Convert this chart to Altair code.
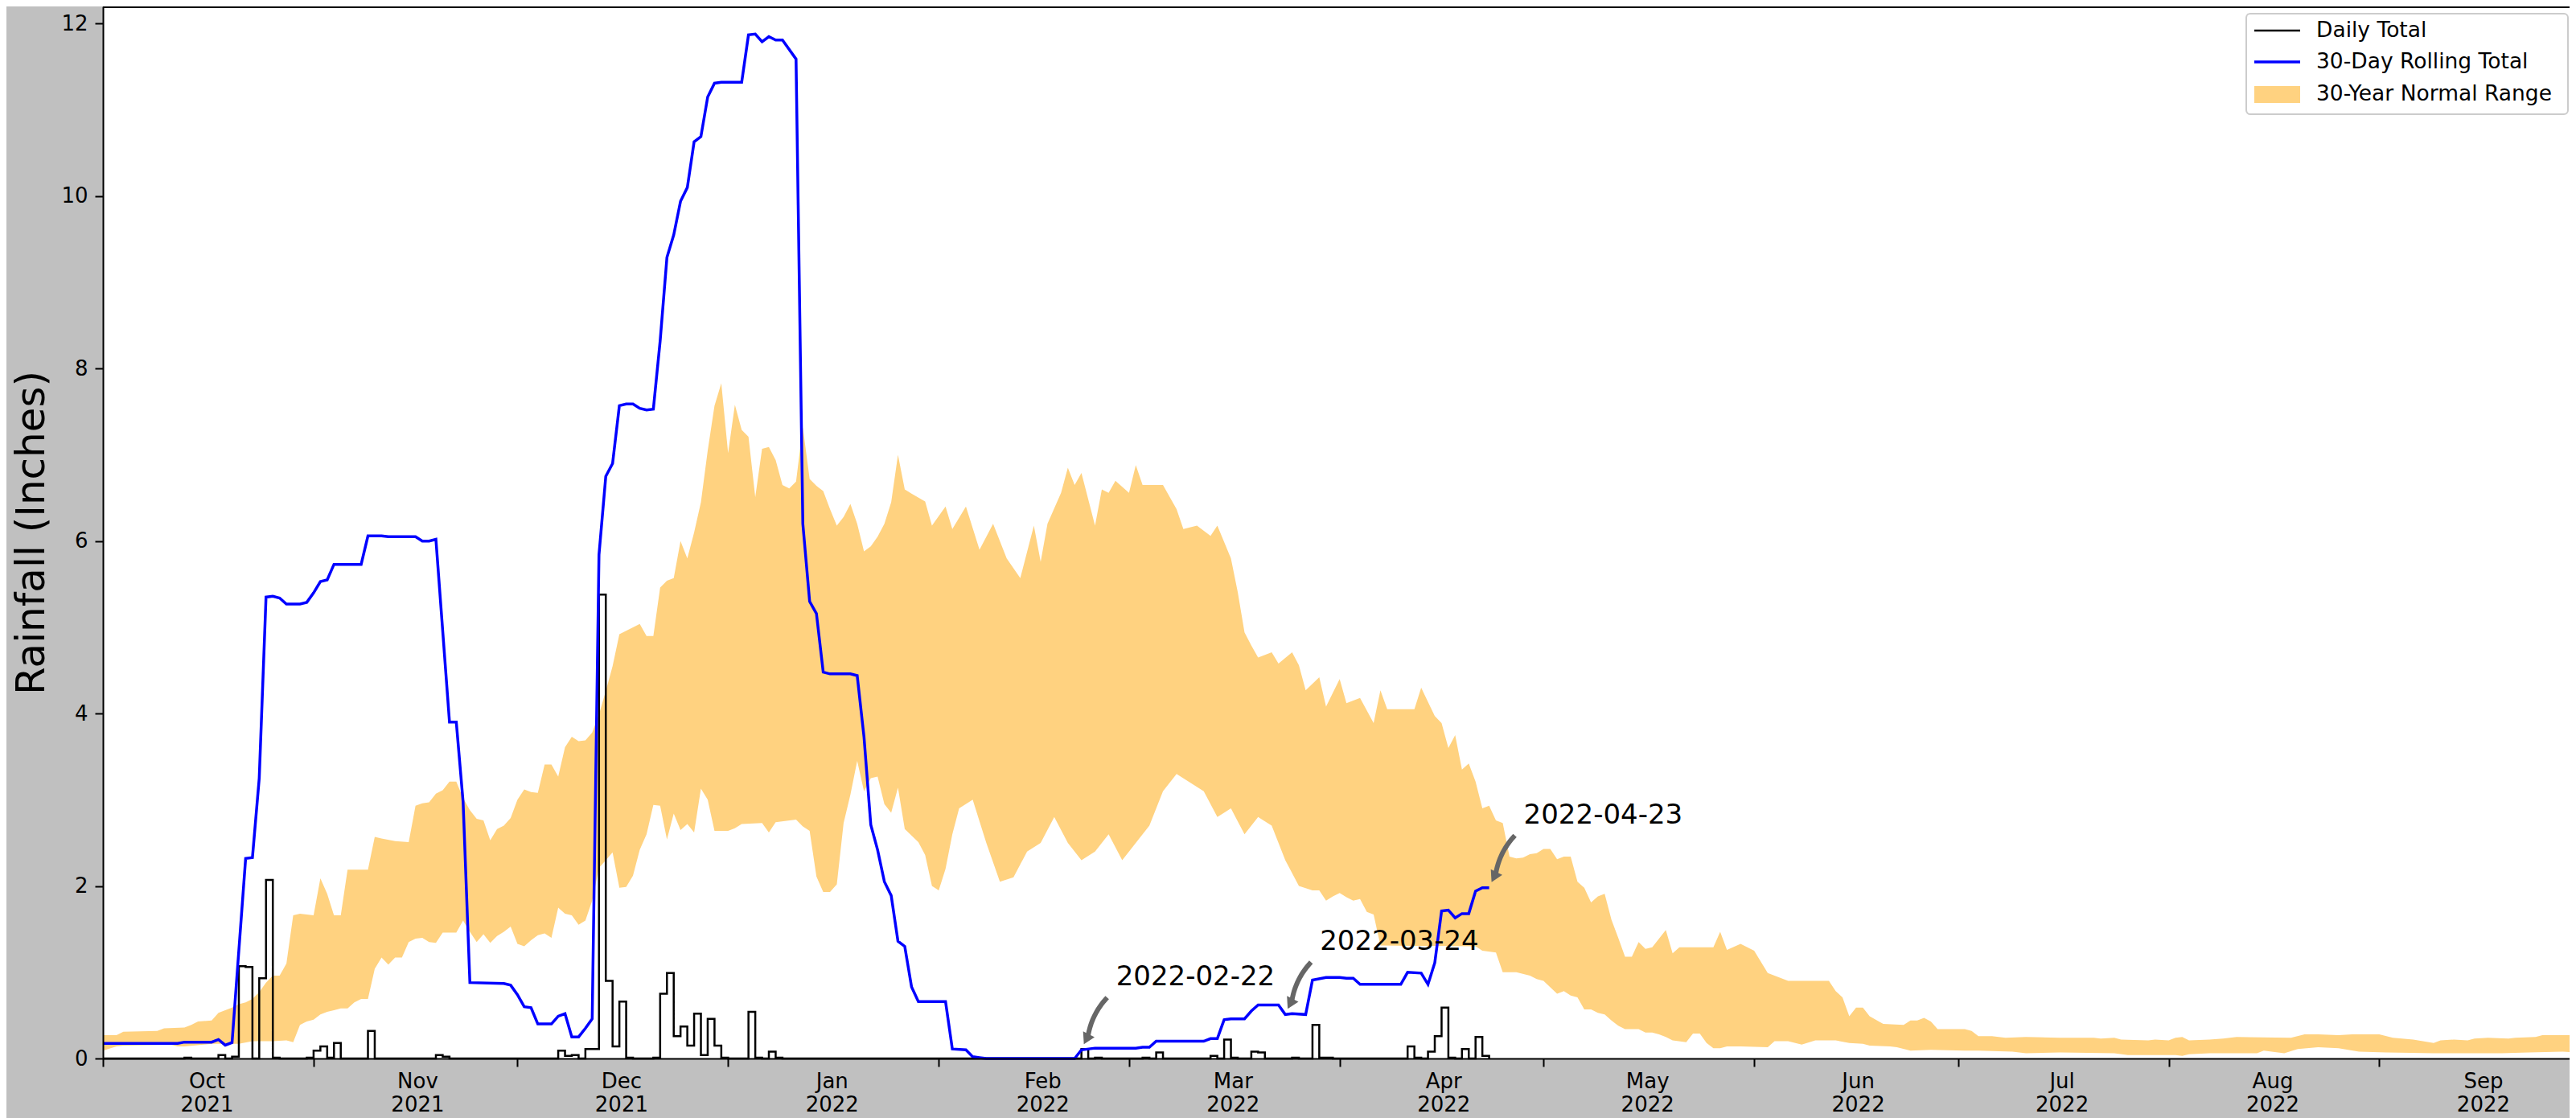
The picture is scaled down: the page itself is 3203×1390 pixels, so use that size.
import math
import altair as alt
import pandas as pd

# ---------------- data ----------------
START = pd.Timestamp("2021-10-01")      # day 0 of the water year
LAST_OBS_DAY = 204                      # 2022-04-23

# daily rainfall: day index -> inches (all other observed days are 0)
rain_days = [12, 17, 19, 20, 21, 23, 24, 25, 30, 31, 32, 33, 34, 39, 49, 50,
             67, 68, 69, 71, 72, 73, 74, 75, 76, 77, 81, 82, 83, 84, 85, 86,
             87, 88, 89, 90, 91, 95, 96, 98, 99, 144, 146, 153, 155, 163, 165,
             166, 169, 170, 175, 178, 179, 180, 192, 193, 195, 196, 197, 198,
             200, 202, 203]
rain_amounts = [0.01, 0.04, 0.02, 1.07, 1.06, 0.93, 2.07, 0.01, 0.01, 0.09, 0.14,
                0.01, 0.18, 0.32, 0.04, 0.02, 0.09, 0.03, 0.04, 0.11, 0.11, 5.38,
                0.90, 0.14, 0.66, 0.01, 0.01, 0.75, 0.99, 0.26, 0.37, 0.15, 0.52,
                0.04, 0.46, 0.15, 0.01, 0.54, 0.01, 0.08, 0.01, 0.11, 0.01, 0.01,
                0.07, 0.03, 0.22, 0.01, 0.08, 0.07, 0.01, 0.39, 0.01, 0.01, 0.14,
                0.01, 0.08, 0.26, 0.59, 0.01, 0.11, 0.25, 0.03]

# 30-day rolling total (vertices of the blue line)
rolling_points = [
    (0, 0.175), (11, 0.175), (12, 0.19), (16, 0.19), (17, 0.22), (18, 0.155), (19, 0.185),
    (21, 2.32), (22, 2.33), (23, 3.25), (24, 5.35), (25, 5.36), (26, 5.34), (27, 5.27),
    (29, 5.27), (30, 5.29), (31, 5.40), (32, 5.53), (33, 5.55), (34, 5.73), (38, 5.73),
    (39, 6.06), (41, 6.06), (42, 6.05), (46, 6.05), (47, 6.00), (48, 6.00), (49, 6.02),
    (51, 3.90), (52, 3.90), (53, 2.98), (54, 0.88), (59, 0.87), (60, 0.85), (61, 0.74),
    (62, 0.60), (63, 0.59), (64, 0.40), (66, 0.40), (67, 0.49), (68, 0.52), (69, 0.25),
    (70, 0.25), (71, 0.35), (72, 0.46), (73, 5.84), (74, 6.75), (75, 6.90), (76, 7.57),
    (77, 7.59), (78, 7.59), (79, 7.54), (80, 7.52), (81, 7.53), (82, 8.32), (83, 9.29),
    (84, 9.55), (85, 9.94), (86, 10.10), (87, 10.63), (88, 10.69), (89, 11.15), (90, 11.31),
    (91, 11.32), (94, 11.32), (95, 11.87), (96, 11.88), (97, 11.79), (98, 11.85), (99, 11.81),
    (100, 11.81), (102, 11.59), (103, 6.20), (104, 5.30), (105, 5.16), (106, 4.48),
    (107, 4.46), (110, 4.46), (111, 4.44), (112, 3.73), (113, 2.71), (114, 2.42), (115, 2.05),
    (116, 1.89), (117, 1.36), (118, 1.30), (119, 0.83), (120, 0.66), (124, 0.66), (125, 0.11),
    (127, 0.10), (128, 0.02), (129, 0.01), (130, 0.0), (143, 0.0), (144, 0.10), (146, 0.12),
    (152, 0.12), (153, 0.13), (154, 0.13), (155, 0.20), (162, 0.20), (163, 0.23), (164, 0.23),
    (165, 0.45), (166, 0.46), (168, 0.46), (169, 0.55), (170, 0.62), (173, 0.62), (174, 0.51),
    (175, 0.52), (177, 0.51), (178, 0.91), (180, 0.94), (182, 0.94), (183, 0.93), (184, 0.93),
    (185, 0.86), (191, 0.86), (192, 1.00), (194, 0.99), (195, 0.86), (196, 1.11), (197, 1.71),
    (198, 1.72), (199, 1.63), (200, 1.68), (201, 1.68), (202, 1.94), (203, 1.98), (204, 1.98)]

# 30-year normal range, upper bound
upper_points = [
    (0, 0.27), (2, 0.27), (3, 0.31), (8, 0.32), (9, 0.35), (12, 0.36), (13, 0.39), (14, 0.43),
    (16, 0.44), (17, 0.53), (18, 0.56), (19, 0.59), (20, 0.63), (21, 0.65), (22, 0.69),
    (23, 0.77), (24, 0.88), (25, 0.96), (26, 0.96), (27, 1.10), (28, 1.66), (29, 1.68),
    (31, 1.66), (32, 2.09), (33, 1.91), (34, 1.66), (35, 1.66), (36, 2.19), (39, 2.19),
    (40, 2.57), (41, 2.55), (43, 2.52), (45, 2.51), (46, 2.93), (47, 2.96), (48, 2.97),
    (49, 3.07), (50, 3.11), (51, 3.21), (52, 3.21), (53, 3.02), (54, 2.88), (55, 2.78),
    (56, 2.76), (57, 2.53), (58, 2.66), (59, 2.70), (60, 2.79), (61, 3.00), (62, 3.12),
    (63, 3.09), (64, 3.08), (65, 3.41), (66, 3.41), (67, 3.27), (68, 3.61), (69, 3.73),
    (70, 3.68), (71, 3.69), (72, 3.78), (73, 3.99), (74, 4.26), (75, 4.55), (76, 4.92),
    (77, 4.96), (78, 5.00), (79, 5.04), (80, 4.90), (81, 4.90), (82, 5.46), (83, 5.54),
    (84, 5.57), (85, 6.00), (86, 5.80), (87, 6.10), (88, 6.45), (89, 7.05), (90, 7.57),
    (91, 7.83), (92, 7.02), (93, 7.58), (94, 7.29), (95, 7.21), (96, 6.51), (97, 7.07),
    (98, 7.09), (99, 6.94), (100, 6.65), (101, 6.61), (102, 6.69), (103, 7.32), (104, 6.72),
    (105, 6.64), (106, 6.58), (107, 6.37), (108, 6.18), (109, 6.28), (110, 6.43), (111, 6.20),
    (112, 5.88), (113, 5.94), (114, 6.05), (115, 6.20), (116, 6.45), (117, 7.00), (118, 6.60),
    (119, 6.55), (121, 6.46), (122, 6.18), (124, 6.40), (125, 6.14), (127, 6.40), (129, 5.90),
    (131, 6.20), (133, 5.80), (135, 5.57), (137, 6.18), (138, 5.76), (139, 6.20), (141, 6.56),
    (142, 6.85), (143, 6.65), (144, 6.79), (146, 6.18), (147, 6.60), (148, 6.56), (149, 6.70),
    (151, 6.56), (152, 6.88), (153, 6.65), (156, 6.65), (158, 6.37), (159, 6.14), (161, 6.18),
    (163, 6.06), (164, 6.18), (166, 5.80), (167, 5.41), (168, 4.94), (169, 4.79), (170, 4.65),
    (172, 4.71), (173, 4.58), (175, 4.71), (176, 4.56), (177, 4.27), (179, 4.42), (180, 4.08),
    (182, 4.40), (183, 4.12), (185, 4.18), (187, 3.89), (188, 4.27), (189, 4.05), (193, 4.05),
    (194, 4.30), (196, 3.97), (197, 3.89), (198, 3.60), (199, 3.75), (200, 3.35), (201, 3.42),
    (202, 3.21), (203, 2.90), (204, 2.93), (205, 2.76), (206, 2.73), (207, 2.34), (208, 2.32),
    (209, 2.33), (210, 2.37), (211, 2.38), (212, 2.43), (213, 2.43), (214, 2.31), (215, 2.34),
    (216, 2.34), (217, 2.05), (218, 1.98), (219, 1.81), (220, 1.88), (221, 1.91), (222, 1.61),
    (223, 1.40), (224, 1.18), (225, 1.18), (226, 1.35), (227, 1.27), (228, 1.29), (229, 1.39),
    (230, 1.49), (231, 1.22), (232, 1.29), (237, 1.29), (238, 1.47), (239, 1.26), (241, 1.33),
    (243, 1.25), (245, 0.99), (248, 0.90), (254, 0.90), (255, 0.78), (256, 0.71), (257, 0.49),
    (258, 0.59), (259, 0.59), (260, 0.49), (262, 0.40), (265, 0.39), (266, 0.44), (267, 0.44),
    (268, 0.47), (269, 0.43), (270, 0.34), (274, 0.34), (275, 0.32), (276, 0.26), (278, 0.26),
    (280, 0.24), (283, 0.25), (288, 0.24), (293, 0.24), (294, 0.23), (296, 0.24), (297, 0.22),
    (301, 0.21), (302, 0.22), (304, 0.21), (305, 0.24), (306, 0.25), (307, 0.21), (310, 0.22),
    (312, 0.23), (314, 0.25), (322, 0.24), (324, 0.28), (326, 0.28), (329, 0.27), (331, 0.28),
    (335, 0.28), (337, 0.24), (340, 0.22), (343, 0.18), (344, 0.21), (346, 0.22), (348, 0.21),
    (349, 0.23), (351, 0.24), (354, 0.23), (355, 0.24), (358, 0.25), (359, 0.27), (364, 0.27)]

# 30-year normal range, lower bound
lower_points = [
    (0, 0.09), (2, 0.14), (3, 0.15), (10, 0.16), (11, 0.14), (12, 0.14), (16, 0.17), (20, 0.17),
    (22, 0.20), (25, 0.20), (27, 0.21), (28, 0.19), (29, 0.39), (30, 0.43), (31, 0.45),
    (32, 0.51), (33, 0.54), (34, 0.56), (35, 0.58), (36, 0.58), (37, 0.65), (38, 0.69),
    (39, 0.69), (40, 1.04), (41, 1.17), (42, 1.09), (43, 1.17), (44, 1.17), (45, 1.35),
    (46, 1.39), (47, 1.40), (48, 1.35), (49, 1.34), (50, 1.46), (52, 1.46), (53, 1.60),
    (54, 1.47), (55, 1.35), (56, 1.44), (57, 1.34), (58, 1.42), (59, 1.47), (60, 1.53),
    (61, 1.33), (62, 1.30), (63, 1.37), (64, 1.43), (65, 1.45), (66, 1.40), (67, 1.75),
    (68, 1.68), (69, 1.66), (70, 1.55), (71, 1.60), (72, 1.83), (73, 2.21), (74, 2.30),
    (75, 2.39), (76, 1.98), (77, 1.99), (78, 2.12), (79, 2.42), (80, 2.60), (81, 2.94),
    (82, 2.93), (83, 2.54), (84, 2.84), (85, 2.65), (86, 2.72), (87, 2.62), (88, 3.13),
    (89, 3.00), (90, 2.64), (92, 2.64), (93, 2.67), (94, 2.72), (97, 2.73), (98, 2.62),
    (99, 2.74), (102, 2.77), (103, 2.69), (104, 2.64), (105, 2.11), (106, 1.93), (107, 1.93),
    (108, 2.02), (109, 2.73), (110, 3.06), (111, 3.45), (112, 3.10), (113, 3.25), (114, 3.27),
    (115, 2.95), (116, 2.85), (117, 3.14), (118, 2.66), (120, 2.51), (121, 2.36), (122, 2.00),
    (123, 1.95), (124, 2.20), (125, 2.60), (126, 2.90), (128, 3.00), (130, 2.50), (132, 2.05),
    (134, 2.10), (136, 2.40), (138, 2.50), (140, 2.80), (142, 2.50), (144, 2.30), (146, 2.40),
    (148, 2.60), (150, 2.30), (152, 2.50), (154, 2.70), (156, 3.10), (158, 3.30), (160, 3.20),
    (162, 3.10), (164, 2.80), (166, 2.90), (168, 2.60), (170, 2.80), (172, 2.70), (174, 2.30),
    (176, 2.00), (178, 1.95), (179, 1.95), (180, 1.83), (181, 1.88), (182, 1.92), (183, 1.87),
    (184, 1.83), (185, 1.85), (186, 1.70), (187, 1.67), (188, 1.31), (202, 1.30), (203, 1.25),
    (205, 1.23), (206, 1.00), (208, 1.00), (210, 0.96), (211, 0.92), (212, 0.90), (214, 0.75),
    (215, 0.78), (216, 0.73), (217, 0.71), (218, 0.57), (219, 0.57), (220, 0.53), (221, 0.51),
    (222, 0.44), (223, 0.38), (224, 0.34), (226, 0.34), (227, 0.30), (228, 0.30), (229, 0.28),
    (230, 0.25), (231, 0.21), (233, 0.19), (234, 0.29), (235, 0.29), (236, 0.18), (237, 0.12),
    (238, 0.12), (239, 0.14), (241, 0.14), (245, 0.13), (246, 0.20), (248, 0.20), (250, 0.16),
    (252, 0.21), (255, 0.21), (257, 0.18), (259, 0.17), (260, 0.15), (263, 0.14), (264, 0.13),
    (266, 0.09), (269, 0.10), (274, 0.09), (276, 0.09), (281, 0.08), (283, 0.06), (288, 0.07),
    (296, 0.06), (298, 0.04), (305, 0.04), (306, 0.03), (307, 0.05), (310, 0.06), (317, 0.06),
    (318, 0.09), (321, 0.06), (323, 0.11), (326, 0.13), (329, 0.12), (332, 0.08), (336, 0.07),
    (343, 0.06), (353, 0.06), (357, 0.07), (362, 0.08), (364, 0.07)]

# annotations (date label, rolling total at that date)
ann_labels = ["2022-02-22", "2022-03-24", "2022-04-23"]
ann_values = [0.10, 0.51, 1.98]

legend_labels = ["Daily Total", "30-Day Rolling Total", "30-Year Normal Range"]
month_starts = [(2021, 10), (2021, 11), (2021, 12), (2022, 1), (2022, 2), (2022, 3),
                (2022, 4), (2022, 5), (2022, 6), (2022, 7), (2022, 8), (2022, 9)]
y_ticks = [0, 2, 4, 6, 8, 10, 12]

# ---------------- layout / style ----------------
W, H = 3067, 1308
YMAX = 12.2
DOMAIN_DAYS = 363
FONT = "DejaVu Sans"
BAND = "#ffd280"
ARROW = "#666666"


def day_str(d):
    return (START + pd.Timedelta(days=d)).strftime("%Y-%m-%d")


amount = dict(zip(rain_days, rain_amounts))
daily_df = pd.DataFrame({
    "date": [day_str(d) for d in range(LAST_OBS_DAY + 1)],
    "value": [amount.get(d, 0.0) for d in range(LAST_OBS_DAY + 1)],
})
rolling_df = pd.DataFrame({"date": [day_str(d) for d, _ in rolling_points],
                           "value": [v for _, v in rolling_points]})
upper_df = pd.DataFrame({"date": [day_str(d) for d, _ in upper_points],
                         "value": [v for _, v in upper_points]})
lower_df = pd.DataFrame({"date": [day_str(d) for d, _ in lower_points],
                         "value": [v for _, v in lower_points]})
ann_df = pd.DataFrame({"date": ann_labels, "value": ann_values, "label": ann_labels})

# curved arrows (pixel offsets from the annotated point, converted through data units)
ppd = W / DOMAIN_DAYS
ppu = H / YMAX
S = (32.0, -65.0)
T = (2.0, -5.0)
L = math.hypot(T[0] - S[0], T[1] - S[1])
ux, uy = (T[0] - S[0]) / L, (T[1] - S[1]) / L
Bp = (T[0] - 13.9 * ux, T[1] - 13.9 * uy)
Cp = (T[0] - 9.2 * ux, T[1] - 9.2 * uy)
Mp = ((S[0] + Bp[0]) / 2, (S[1] + Bp[1]) / 2)
Qp = (Mp[0] - uy * 8.0, Mp[1] + ux * 8.0)
head_angle = math.degrees(math.atan2(-ux, uy)) % 360

arrow_rows, head_rows = [], []
for lab, val in zip(ann_labels, ann_values):
    base_ms = pd.Timestamp(lab, tz="UTC").value // 10**6
    for i in range(15):
        t = i / 14
        px = (1 - t) ** 2 * S[0] + 2 * (1 - t) * t * Qp[0] + t ** 2 * Bp[0]
        py = (1 - t) ** 2 * S[1] + 2 * (1 - t) * t * Qp[1] + t ** 2 * Bp[1]
        arrow_rows.append({"date": base_ms + px / ppd * 86400000, "value": val - py / ppu,
                           "ann": lab, "i": i})
    head_rows.append({"date": base_ms + Cp[0] / ppd * 86400000, "value": val - Cp[1] / ppu,
                      "ang": head_angle})
arrow_df = pd.DataFrame(arrow_rows)
head_df = pd.DataFrame(head_rows)

# ---------------- encodings ----------------
x_scale = alt.Scale(type="utc", domain=[alt.DateTime(year=2021, month=10, date=1, utc=True),
                                        alt.DateTime(year=2022, month=9, date=29, utc=True)])
x_axis = alt.Axis(
    values=[alt.DateTime(year=y, month=m, date=1, utc=True) for y, m in month_starts],
    labelExpr="[utcFormat(datum.value, '%b'), utcFormat(datum.value, '%Y')]",
    labelOffset=129, labelFont=FONT, labelFontSize=26, labelColor="black",
    labelPadding=5, labelLineHeight=29, labelOverlap=False, labelFlush=False,
    tickSize=10, tickWidth=2, tickColor="black", domainColor="black", domainWidth=2,
    grid=False, zindex=1, title=None)
y_scale = alt.Scale(domain=[0, YMAX], nice=False, zero=True)
y_axis = alt.Axis(
    values=y_ticks, format="d", labelFont=FONT, labelFontSize=26, labelColor="black",
    labelPadding=9, tickSize=10, tickWidth=2, tickColor="black", domainColor="black",
    domainWidth=2, grid=False, zindex=1,
    title="Rainfall (Inches)", titleFont=FONT, titleFontSize=50, titleFontWeight="normal",
    titleColor="black", titleAngle=270, titleX=-89, titleY=H / 2, titleAlign="center",
    titleBaseline="middle")


def X():
    return alt.X("date:T", scale=x_scale, axis=x_axis, title=None)


def Y():
    return alt.Y("value:Q", scale=y_scale, axis=y_axis, title="Rainfall (Inches)")


one = pd.DataFrame({"k": [0]})
plot_bg = alt.Chart(one).mark_rect(fill="white").encode(
    x=alt.value(0), x2=alt.value(W), y=alt.value(0), y2=alt.value(H))

band_upper = alt.Chart(upper_df).mark_area(color=BAND, clip=True).encode(x=X(), y=Y())
band_lower = alt.Chart(lower_df).mark_area(color="white", clip=True).encode(x=X(), y=Y())
daily = alt.Chart(daily_df).mark_line(color="black", strokeWidth=2.5,
                                      interpolate="step-after").encode(x=X(), y=Y())
rolling = alt.Chart(rolling_df).mark_line(color="#0000ff", strokeWidth=3.5).encode(x=X(), y=Y())
arrows = alt.Chart(arrow_df).mark_line(color=ARROW, strokeWidth=6, strokeCap="butt").encode(
    x=X(), y=Y(), detail="ann:N", order="i:Q")
heads = alt.Chart(head_df).mark_point(shape="triangle-down", filled=True, size=256,
                                      color=ARROW, opacity=1).encode(
    x=X(), y=Y(), angle=alt.Angle("ang:Q", scale=None))
ann_text = alt.Chart(ann_df).mark_text(align="left", baseline="alphabetic", dx=43, dy=-80,
                                       font=FONT, fontSize=34, color="black").encode(
    x=X(), y=Y(), text="label:N")

top_spine = alt.Chart(one).mark_rule(color="black", strokeWidth=2).encode(
    x=alt.value(0), x2=alt.value(W), y=alt.value(1))

# legend (upper right)
LX0, LX1, LY0, LY1 = 2665, 3065, 9, 134
leg_box = alt.Chart(one).mark_rect(fill="white", fillOpacity=0.8, stroke="#cccccc",
                                   strokeWidth=2, cornerRadius=5).encode(
    x=alt.value(LX0), x2=alt.value(LX1), y=alt.value(LY0), y2=alt.value(LY1))
row_y = [30, 69, 109]
leg_black = alt.Chart(one).mark_rule(color="black", strokeWidth=2.5).encode(
    x=alt.value(2675), x2=alt.value(2732), y=alt.value(row_y[0]))
leg_blue = alt.Chart(one).mark_rule(color="#0000ff", strokeWidth=3.5).encode(
    x=alt.value(2675), x2=alt.value(2732), y=alt.value(row_y[1]))
leg_band = alt.Chart(one).mark_rect(color=BAND).encode(
    x=alt.value(2675), x2=alt.value(2732), y=alt.value(row_y[2] - 10), y2=alt.value(row_y[2] + 11))
leg_texts = [
    alt.Chart(one).mark_text(align="left", baseline="middle", font=FONT, fontSize=26.5,
                             color="black").encode(
        x=alt.value(2752), y=alt.value(ry), text=alt.value(lab))
    for lab, ry in zip(legend_labels, row_y)]

chart = alt.layer(
    plot_bg, band_upper, band_lower, daily, rolling, arrows, heads, ann_text, top_spine,
    leg_box, leg_black, leg_blue, leg_band, *leg_texts
).properties(
    width=W, height=H,
    padding={"left": 120, "top": 0, "right": 0, "bottom": 74},
    autosize=alt.AutoSizeParams(type="none"),
    background="#c0c0c0",
).configure_view(stroke="transparent").configure(font=FONT)

chart.save("out.html", embed_options={"renderer": "svg", "actions": False})
